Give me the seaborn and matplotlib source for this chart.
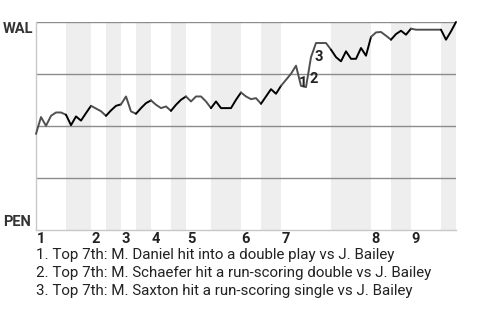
import matplotlib
matplotlib.use("Agg")
import matplotlib.pyplot as plt
import seaborn as sns
import pandas as pd

# ---- data ----
win_prob = [
    0.462, 0.543, 0.501, 0.549, 0.565, 0.565, 0.554, 0.504, 0.546, 0.526,
    0.562, 0.597, 0.584, 0.571, 0.549, 0.575, 0.597, 0.604, 0.642, 0.570,
    0.559, 0.586, 0.610, 0.623, 0.602, 0.586, 0.594, 0.573, 0.602, 0.626,
    0.642, 0.618, 0.642, 0.642, 0.618, 0.586, 0.618, 0.586, 0.586, 0.586,
    0.626, 0.661, 0.642, 0.629, 0.634, 0.607, 0.642, 0.677, 0.655, 0.693,
    0.722, 0.751, 0.790, 0.693, 0.687, 0.831, 0.899, 0.899, 0.899, 0.867,
    0.831, 0.811, 0.859, 0.823, 0.823, 0.875, 0.838, 0.928, 0.950, 0.952,
    0.934, 0.915, 0.942, 0.958, 0.939, 0.968, 0.963, 0.963, 0.963, 0.963,
    0.963, 0.963, 0.915, 0.955, 1.000,
]
# plate-appearance index where each half inning starts (last = end of game)
half_bounds = [0, 6, 11, 14, 17, 20, 23, 27, 30, 35, 41, 45, 49, 59, 67, 71, 75, 81, 84]
inning_labels = ["1", "2", "3", "4", "5", "6", "7", "8", "9"]
event_pa = [53, 55, 56]
event_labels = ["1", "2", "3"]
event_notes = [
    "1. Top 7th: M. Daniel hit into a double play vs J. Bailey",
    "2. Top 7th: M. Schaefer hit a run-scoring double vs J. Bailey",
    "3. Top 7th: M. Saxton hit a run-scoring single vs J. Bailey",
]
team_top = "WAL"
team_bottom = "PEN"

# ---- style ----
sns.set_theme(style="white")
plt.rcParams["font.family"] = ["Roboto", "DejaVu Sans"]
TXT = "#222222"

fig = plt.figure(figsize=(4.8, 3.2), dpi=100)
ax = fig.add_axes([36 / 480, 1 - 230 / 320, 420 / 480, 208 / 320])

# shaded bottom halves
for i in range(1, len(half_bounds) - 1, 2):
    ax.axvspan(half_bounds[i], half_bounds[i + 1], color="#eeeeee", lw=0, zorder=0)

for yv in [0.25, 0.5, 0.75, 1.0]:
    ax.axhline(yv, color="#8c8c8c", lw=1.0, zorder=1)

# build frame: one line segment per half inning
rows = []
for h in range(len(half_bounds) - 1):
    a, b = half_bounds[h], half_bounds[h + 1]
    for k in range(a, b + 1):
        rows.append({"pa": k, "wp": win_prob[k], "half": f"h{h:02d}"})
df = pd.DataFrame(rows)
palette = {f"h{h:02d}": ("#505050" if h % 2 == 0 else "#000000")
           for h in range(len(half_bounds) - 1)}
sns.lineplot(data=df, x="pa", y="wp", hue="half", palette=palette,
             estimator=None, sort=False, legend=False, linewidth=1.4,
             ax=ax, zorder=3, clip_on=False)

ax.set_xlim(half_bounds[0], half_bounds[-1])
ax.set_ylim(0, 1)
ax.set_xticks([])
ax.set_yticks([])
ax.set_xlabel("")
ax.set_ylabel("")
for s in ["top", "right"]:
    ax.spines[s].set_visible(False)
for s in ["left", "bottom"]:
    ax.spines[s].set_color("#c8c8c8")
    ax.spines[s].set_linewidth(1.0)

# inning labels
for lab, start in zip(inning_labels, half_bounds[0:-1:2]):
    ax.text(start + 0.15, -0.061, lab, transform=ax.get_xaxis_transform(),
            ha="left", va="baseline", fontsize=10.5, fontweight="bold", color=TXT)

# event markers
for lab, k in zip(event_labels, event_pa):
    mx = k - 0.5
    my = (win_prob[k - 1] + win_prob[k]) / 2
    ax.annotate(lab, (mx, my), xytext=(5, -7), textcoords="offset pixels",
                ha="center", va="center", fontsize=10.5, fontweight="bold",
                color=TXT, zorder=4)

# team labels
fig.text(3 / 480, 1 - 33.3 / 320, team_top, ha="left", va="baseline",
         fontsize=10.5, fontweight="bold", color="#333333")
fig.text(3 / 480, 1 - 226 / 320, team_bottom, ha="left", va="baseline",
         fontsize=10.5, fontweight="bold", color="#333333")

# notes
for i, note in enumerate(event_notes):
    fig.text(36 / 480, 1 - (259.3 + 17.6 * i) / 320, note, ha="left",
             va="baseline", fontsize=10.9, color=TXT)

fig.savefig("out.png", dpi=100)
